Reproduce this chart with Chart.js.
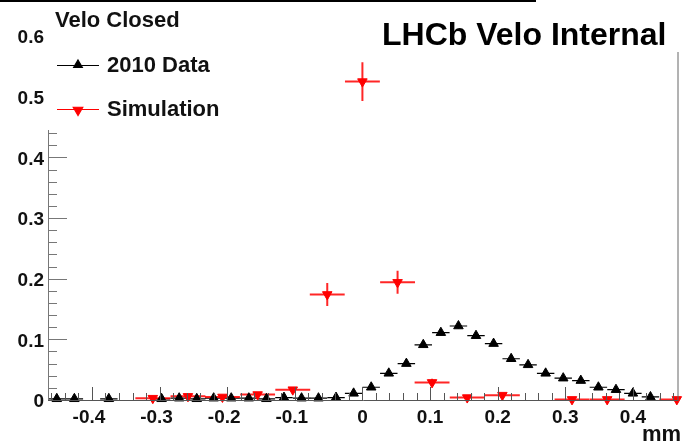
<!DOCTYPE html>
<html>
<head>
<meta charset="utf-8">
<script src="https://cdn.jsdelivr.net/npm/chart.js@4.4.0/dist/chart.umd.min.js"></script>
<style>
  html, body { margin: 0; padding: 0; background: #fff; }
  canvas { display: block; }
</style>
</head>
<body>
<canvas id="chart" width="684" height="443"></canvas>
<script>
// 2010 data, bin centres (mm) and contents
const dataX = [-0.452, -0.426, -0.375, -0.297, -0.271, -0.245, -0.220, -0.194, -0.168, -0.142,
  -0.116, -0.090, -0.065, -0.039, -0.013, 0.013, 0.039, 0.065, 0.090, 0.116, 0.142, 0.168,
  0.194, 0.220, 0.245, 0.271, 0.297, 0.323, 0.349, 0.375, 0.400, 0.426];
const dataY = [0.002, 0.002, 0.002, 0.002, 0.003, 0.002, 0.003, 0.003, 0.003, 0.002,
  0.004, 0.003, 0.003, 0.004, 0.011, 0.021, 0.044, 0.060, 0.091, 0.111, 0.122, 0.106,
  0.093, 0.068, 0.058, 0.044, 0.036, 0.032, 0.021, 0.017, 0.011, 0.005];
const dataYErr = [0.001, 0.001, 0.001, 0.001, 0.001, 0.001, 0.001, 0.001, 0.001, 0.001,
  0.001, 0.001, 0.001, 0.001, 0.002, 0.002, 0.003, 0.003, 0.004, 0.004, 0.004, 0.004,
  0.004, 0.003, 0.003, 0.003, 0.003, 0.003, 0.002, 0.002, 0.002, 0.001];
const dataXErr = 0.0129;

// simulation, bin centres (mm) and contents
const simX = [-0.310, -0.258, -0.207, -0.155, -0.103, -0.052, 0.000, 0.052, 0.103,
  0.155, 0.207, 0.310, 0.362, 0.465];
const simY = [0.003, 0.006, 0.005, 0.009, 0.017, 0.174, 0.525, 0.194, 0.029,
  0.004, 0.008, 0.001, 0.001, 0.001];
const simYErr = [0.001, 0.002, 0.002, 0.003, 0.004, 0.019, 0.032, 0.019, 0.006,
  0.002, 0.003, 0.001, 0.001, 0.001];
const simXErr = 0.0258;

const xTicks = [-0.4, -0.3, -0.2, -0.1, 0, 0.1, 0.2, 0.3, 0.4];
const yTicks = [0, 0.1, 0.2, 0.3, 0.4, 0.5, 0.6];
const minorStep = 0.02;

const FONT = '"Liberation Sans", Arial, Helvetica, sans-serif';

function pts(xs, ys) {
  return xs.map((x, i) => ({ x, y: ys[i] }));
}

const errorBars = {
  id: "errorBars",
  beforeDatasetsDraw(chart) {
    const { ctx, scales } = chart;
    const sx = scales.x, sy = scales.y;
    const sets = [
      { xs: dataX, ys: dataY, ye: dataYErr, xe: dataXErr, color: "#000", w: 1.2 },
      { xs: simX, ys: simY, ye: simYErr, xe: simXErr, color: "rgba(255,0,0,0.85)", w: 2 },
    ];
    ctx.save();
    sets.forEach((s) => {
      ctx.strokeStyle = s.color;
      ctx.lineWidth = s.w;
      s.xs.forEach((x, i) => {
        const px = sx.getPixelForValue(x);
        const py = sy.getPixelForValue(s.ys[i]);
        ctx.beginPath();
        ctx.moveTo(sx.getPixelForValue(x - s.xe), py);
        ctx.lineTo(Math.min(sx.getPixelForValue(x + s.xe), chart.chartArea.right + 1), py);
        ctx.moveTo(px, sy.getPixelForValue(s.ys[i] - s.ye[i]));
        ctx.lineTo(px, sy.getPixelForValue(s.ys[i] + s.ye[i]));
        ctx.stroke();
      });
    });
    ctx.restore();
  },
};

const rootFrame = {
  id: "rootFrame",
  afterDraw(chart) {
    const { ctx, scales, chartArea } = chart;
    const sx = scales.x, sy = scales.y;
    const { left, right, bottom } = chartArea;
    const legendBottom = 130;
    ctx.save();

    // top border and right frame edge
    ctx.fillStyle = "#000";
    ctx.fillRect(0, 0, 536, 2);
    ctx.strokeStyle = "#666";
    ctx.lineWidth = 1;
    ctx.beginPath();
    ctx.moveTo(right + 0.5, 52);
    ctx.lineTo(right + 0.5, bottom);
    ctx.stroke();

    // y axis
    ctx.strokeStyle = "#777";
    ctx.beginPath();
    ctx.moveTo(left + 0.5, legendBottom);
    ctx.lineTo(left + 0.5, bottom);
    for (let v = 0; v <= sy.max + 1e-9; v += minorStep) {
      const py = Math.round(sy.getPixelForValue(v)) + 0.5;
      if (py < legendBottom) continue;
      const major = Math.abs(v * 10 - Math.round(v * 10)) < 1e-6;
      ctx.moveTo(left, py);
      ctx.lineTo(left + (major ? 19 : 9), py);
    }
    ctx.stroke();

    // x axis
    ctx.strokeStyle = "#555";
    ctx.beginPath();
    ctx.moveTo(left, bottom + 0.5);
    ctx.lineTo(right + 1, bottom + 0.5);
    for (let v = -0.46; v <= sx.max + 1e-9; v += minorStep) {
      const px = Math.round(sx.getPixelForValue(v)) + 0.5;
      const major = Math.abs(v * 10 - Math.round(v * 10)) < 1e-6;
      ctx.moveTo(px, bottom);
      ctx.lineTo(px, bottom - (major ? 13 : 7));
    }
    ctx.stroke();

    // tick labels
    ctx.fillStyle = "#111";
    ctx.font = "bold 19px " + FONT;
    ctx.textAlign = "right";
    ctx.textBaseline = "middle";
    yTicks.forEach((v) => {
      ctx.fillText(String(v), 44, sy.getPixelForValue(v) + 2);
    });
    ctx.textAlign = "center";
    xTicks.forEach((v) => {
      ctx.fillText(String(v), sx.getPixelForValue(v) - (v < 0 ? 3 : 0), 418);
    });

    // axis title
    ctx.font = "bold 22px " + FONT;
    ctx.textAlign = "right";
    ctx.fillText("mm", 681, 435);

    // legend
    ctx.textAlign = "left";
    ctx.fillText("Velo Closed", 55, 21);
    ctx.fillText("2010 Data", 107, 66);
    ctx.fillText("Simulation", 107, 110);
    ctx.lineWidth = 1.2;
    ctx.strokeStyle = "#000";
    ctx.beginPath();
    ctx.moveTo(57, 65.5);
    ctx.lineTo(99, 65.5);
    ctx.stroke();
    ctx.strokeStyle = "#ff0000";
    ctx.beginPath();
    ctx.moveTo(57, 109.5);
    ctx.lineTo(99, 109.5);
    ctx.stroke();
    ctx.fillStyle = "#000";
    ctx.strokeStyle = "#000";
    Chart.helpers.drawPoint(ctx, { pointStyle: "triangle", radius: 5, rotation: 0, borderWidth: 1 }, 78, 65);
    ctx.fillStyle = "#ff0000";
    ctx.strokeStyle = "#ff0000";
    Chart.helpers.drawPoint(ctx, { pointStyle: "triangle", radius: 5.5, rotation: 180, borderWidth: 1 }, 78, 110);

    // label box
    ctx.fillStyle = "#000";
    ctx.font = "bold 32px " + FONT;
    ctx.textAlign = "left";
    ctx.fillText("LHCb Velo Internal", 382, 36);
    ctx.restore();
  },
};

new Chart(document.getElementById("chart"), {
  type: "scatter",
  data: {
    datasets: [
      {
        label: "2010 Data",
        data: pts(dataX, dataY),
        pointStyle: "triangle",
        pointRadius: 5.5,
        pointBackgroundColor: "#000",
        pointBorderColor: "#000",
        pointBorderWidth: 1,
        clip: false,
      },
      {
        label: "Simulation",
        data: pts(simX, simY),
        pointStyle: "triangle",
        rotation: 180,
        pointRadius: 5.5,
        pointBackgroundColor: "#ff0000",
        pointBorderColor: "#ff0000",
        pointBorderWidth: 1,
        clip: false,
      },
    ],
  },
  options: {
    responsive: false,
    animation: false,
    devicePixelRatio: 1,
    layout: { padding: { left: 48, right: 1, top: 1, bottom: 43 } },
    plugins: { legend: { display: false }, tooltip: { enabled: false } },
    scales: {
      x: { type: "linear", min: -0.465, max: 0.466, display: false },
      y: { min: 0, max: 0.6488, display: false },
    },
  },
  plugins: [errorBars, rootFrame],
});
</script>
</body>
</html>
